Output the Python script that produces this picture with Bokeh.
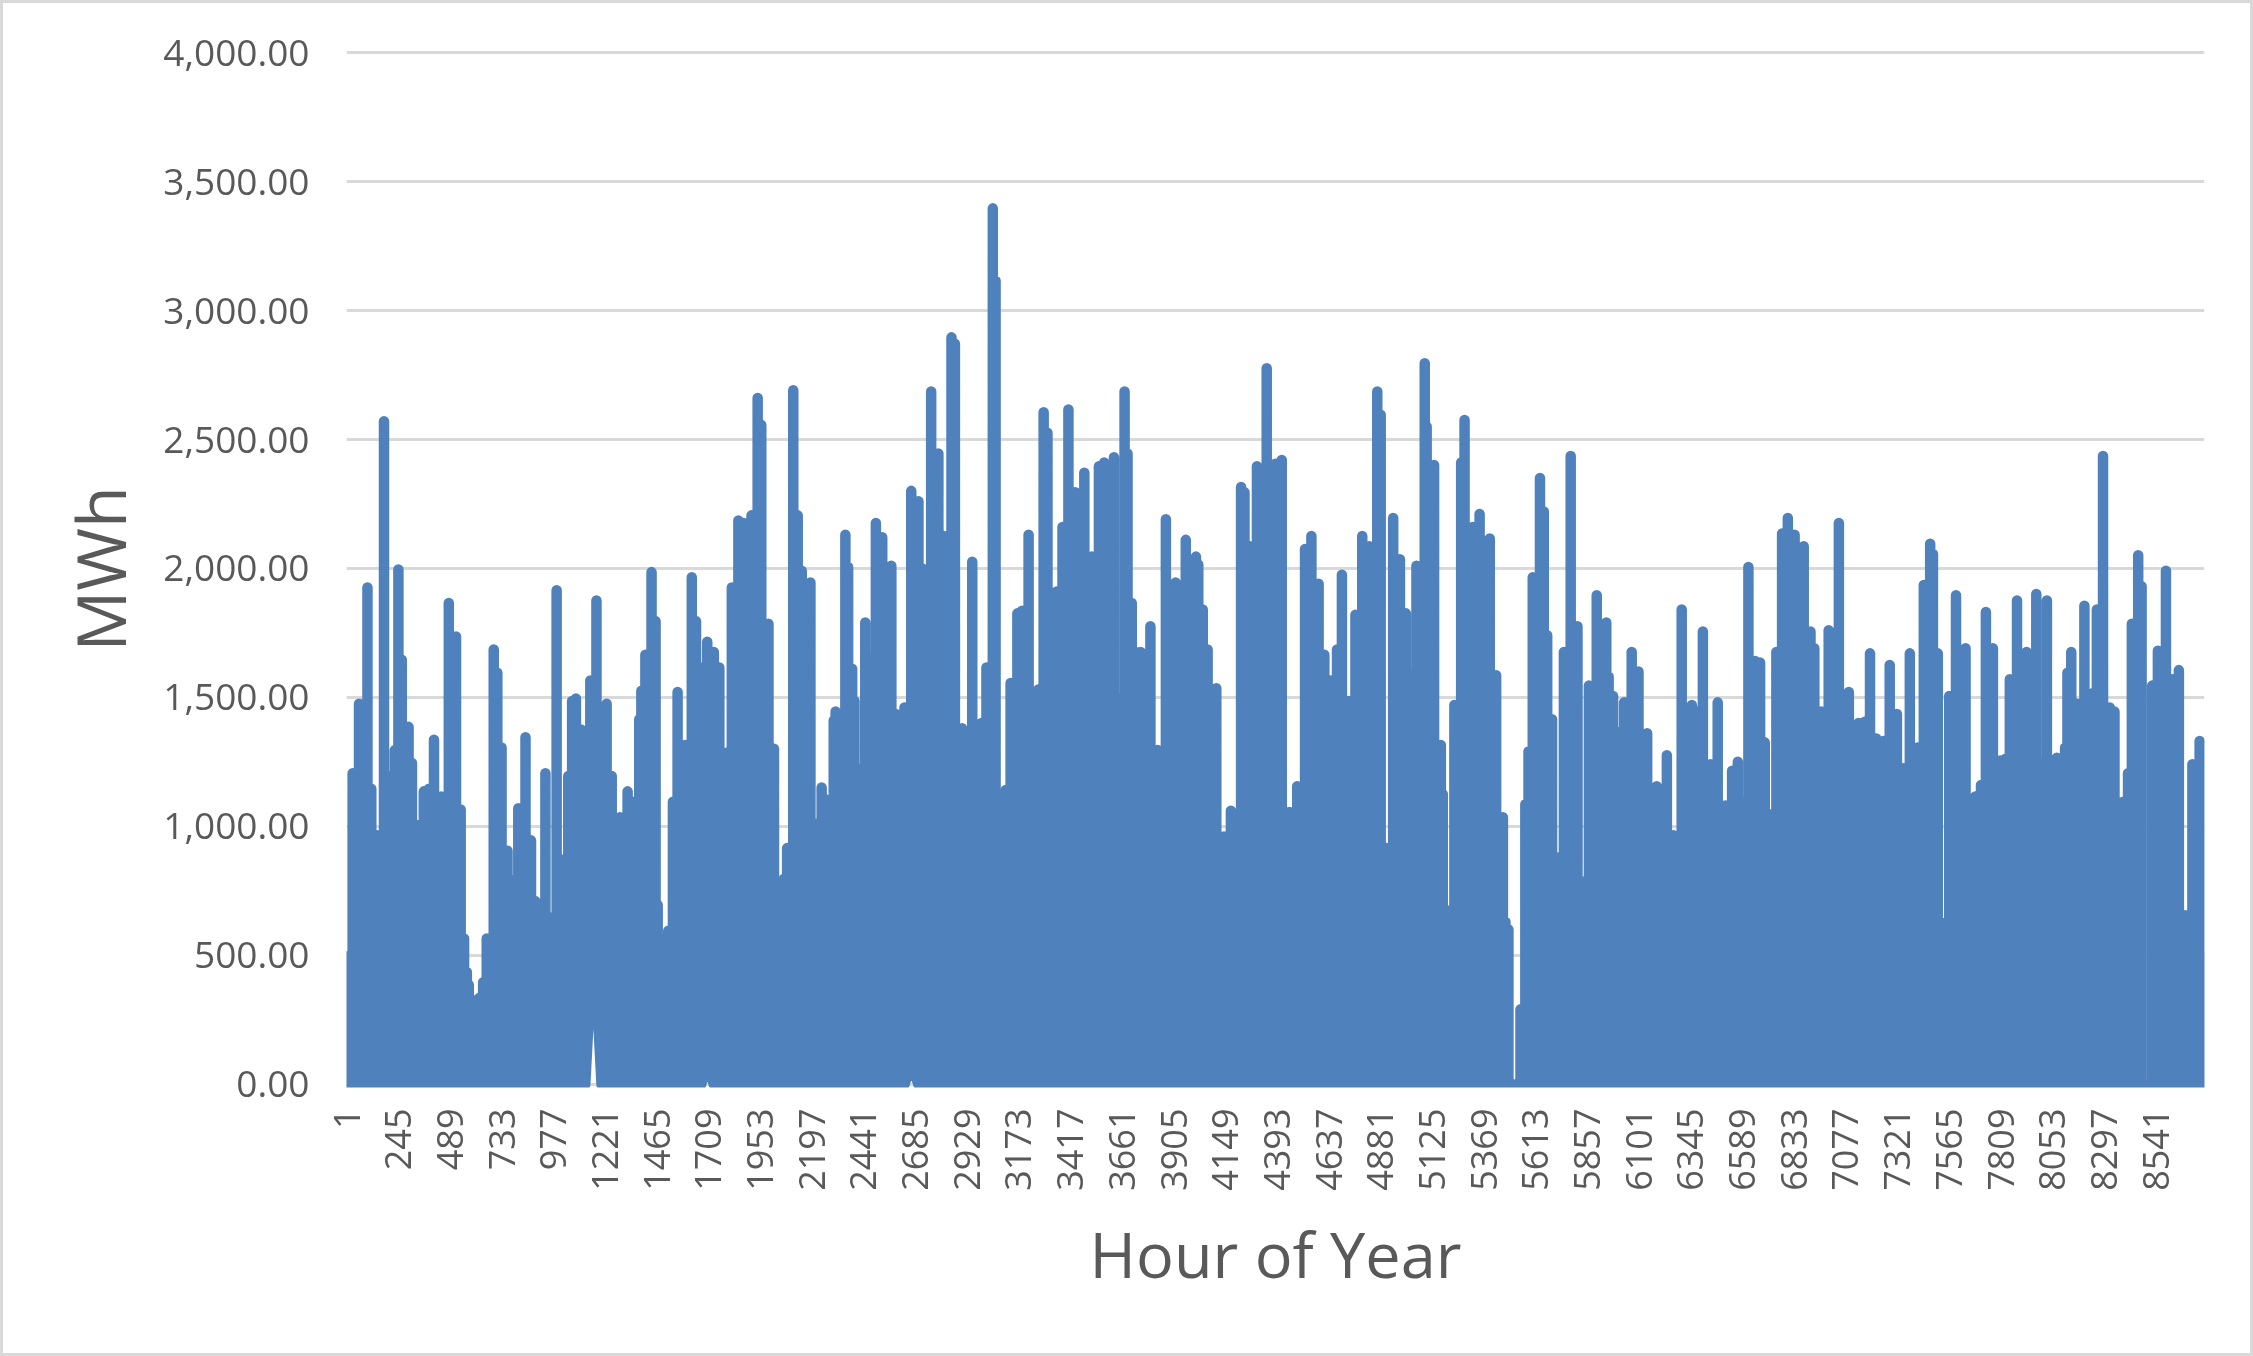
from bokeh.embed import file_html
from bokeh.models import FixedTicker, InlineStyleSheet, Range1d, NumeralTickFormatter
from bokeh.plotting import figure
from bokeh.resources import INLINE

peak_hours = [5,30,60,100,118,145,178,212,229,246,262,294,310,332,366,390,414,448,484,518,540,556,569,578,602,629,646,663,
 696,713,733,761,783,800,812,846,872,892,916,940,965,993,1017,1036,1048,1066,1084,1108,1128,1152,1181,1205,1229,1253,1292,
 1328,1357,1383,1393,1412,1441,1460,1470,1484,1504,1520,1542,1564,1600,1631,1651,1675,1704,1735,1761,1793,1820,1851,1875,
 1913,1942,1959,1993,2019,2048,2065,2081,2110,2131,2150,2163,2191,2220,2244,2260,2278,2301,2310,2333,2356,2369,2388,2399,
 2420,2450,2475,2500,2530,2548,2573,2594,2610,2635,2667,2701,2717,2729,2761,2795,2820,2857,2873,2907,2930,2955,2976,2999,
 3022,3052,3065,3086,3113,3136,3168,3190,3221,3251,3267,3292,3310,3331,3354,3381,3409,3441,3460,3484,3519,3553,3578,3600,
 3624,3674,3688,3708,3725,3750,3775,3796,3830,3869,3890,3915,3940,3963,3985,4011,4022,4043,4066,4107,4143,4176,4224,4240,
 4265,4299,4320,4345,4365,4386,4416,4452,4489,4526,4556,4590,4617,4647,4677,4700,4732,4764,4796,4830,4867,4883,4910,4942,
 4974,5002,5025,5052,5091,5100,5135,5167,5176,5192,5231,5263,5279,5318,5350,5375,5398,5428,5460,5472,5486,5543,5566,
 5581,5601,5635,5653,5669,5692,5726,5748,5780,5812,5839,5866,5903,5948,5959,5980,5995,6011,6032,6068,6100,6141,6186,6234,
 6265,6304,6352,6375,6404,6440,6474,6510,6542,6569,6619,6651,6674,6696,6724,6751,6778,6805,6837,6880,6912,6930,6962,6998,
 7046,7093,7139,7168,7193,7223,7257,7286,7320,7350,7381,7418,7447,7477,7490,7513,7536,7567,7599,7644,7690,7717,7740,7773,
 7808,7830,7853,7887,7932,7978,8028,8075,8114,8125,8143,8170,8205,8220,8243,8264,8293,8325,8347,8363,8388,8411,8429,8459,
 8475,8525,8552,8590,8620,8651,8681,8692,8715,8749,8758]
peak_mwh = [500,1210,1480,1930,1150,970,2575,1200,1300,2000,1650,1390,1250,1010,1140,1150,1340,1120,1870,1740,1070,570,440,
 390,330,340,400,570,1690,1600,1310,910,670,800,1075,1350,950,715,580,1210,650,1920,640,880,1200,1490,1500,1380,1360,1570,
 1880,1200,1480,1200,1040,1140,1100,1420,1530,1670,1990,1800,700,570,470,600,1100,1525,1320,1970,1800,1620,1720,1680,1620,
 1290,1930,2190,2180,2210,2665,2560,1790,1305,730,800,920,2695,2210,1995,1700,1950,1015,1155,1110,885,1415,1450,1100,2135,
 2010,1615,1490,1228,1795,1655,2180,2125,1975,2015,1440,1430,1465,2305,2265,2005,1590,2690,2450,2130,2900,2875,1385,1100,
 2030,1250,1405,1620,3400,3120,1060,1145,1560,1830,1840,2135,1380,1535,2610,2530,1050,1915,2165,2620,2300,2070,2375,2050,
 2400,2415,2370,2435,2690,2450,1870,1680,1680,1500,1780,1300,2195,1700,1950,1800,2115,1900,2050,2020,1845,1690,1540,965,
 1065,2320,2300,2090,2400,1900,2780,2000,2410,2425,1060,1160,2080,2130,1945,1670,1570,1690,1980,1490,1825,2130,2090,2690,
 2600,920,2200,2040,1830,1595,2015,2800,2555,2405,1320,1130,680,1475,2415,2580,2165,2215,1785,2120,1590,1040,635,605,
 295,1090,1295,1970,2355,2225,1745,1420,885,1680,2440,1780,790,1550,1900,1795,1585,1510,1285,1370,1485,1680,1605,1365,
 1160,1280,970,1845,1475,1450,1760,1245,1485,1085,1220,1255,2010,1645,1640,1330,1050,1680,2140,2200,2135,2090,1760,1695,
 1450,1765,2180,1525,1405,1410,1675,1345,1335,1630,1440,1230,1675,1310,1940,2100,2060,1675,630,1510,1900,1695,1120,1165,
 1835,1695,1260,1265,1575,1880,1680,1905,1880,1270,1310,1600,1680,1480,1860,1140,1520,1845,2440,1465,1450,825,1100,1210,
 1790,2055,1935,1550,1685,1995,1575,1610,660,560,1245,1335,500]
# lower spikes that are hidden between the tall ones
fill_hours = [3650,4200,5925,6210,6328,6594,7022,7070,7116,7667,7955,8003,8051]
fill_mwh = [1500,1000,1200,1100,1000,1100,1300,1300,1200,1000,1300,1250,1250]
# the few spikes that do not come down to zero (the white slits at the foot of the plot)
raised_hours = [1152,1181,1704,2667,8170,8552]
raised_floor = [376,376,80,80,50,55]
x_tick_hours = list(range(1, 8760, 244))
y_tick_values = [0, 500, 1000, 1500, 2000, 2500, 3000, 3500, 4000]
x_title = "Hour of Year"
y_title = "MWh"

BLUE = "#4f81bd"
GREY = "#595959"
GRID = "#d9d9d9"
CAP = 4  # small allowance: the readings are of the stroke's top edge

floors = dict(zip(raised_hours, raised_floor))
line_x, line_y = [], []
for h, v in zip(peak_hours + fill_hours, peak_mwh + fill_mwh):
    f = floors.get(h, 0)
    line_x += [h, h, h]
    line_y += [f, max(v - CAP, 0), f]

p = figure(width=2253, height=1356, output_backend="svg", toolbar_location=None,
           x_range=Range1d(1, 8772), y_range=Range1d(-12, 4008),
           min_border_left=346, min_border_right=49, min_border_top=50, min_border_bottom=269)
p.styles = {"position": "fixed", "left": "0", "top": "0"}
p.stylesheets = [InlineStyleSheet(css=":host::after{content:'';position:absolute;inset:0;"
                                      f"border:3px solid {GRID};pointer-events:none;z-index:100}}")]
p.outline_line_color = None
p.background_fill_color = "white"
p.border_fill_color = "white"
p.xgrid.visible = False
p.ygrid.grid_line_color = GRID
p.ygrid.grid_line_width = 3

p.line(line_x, line_y, line_color=BLUE, line_width=10.5, line_join="round", line_cap="round")

ax = p.xaxis[0]
ax.ticker = FixedTicker(ticks=x_tick_hours)
ax.major_label_orientation = 1.5708
ax.major_label_text_font = "Open Sans"
ax.major_label_text_font_size = "36px"
ax.major_label_text_color = GREY
ax.major_label_standoff = 15
ax.major_tick_line_color = None
ax.minor_tick_line_color = None
ax.axis_line_color = None
ax.axis_label = x_title
ax.axis_label_text_font = "Open Sans"
ax.axis_label_text_font_style = "normal"
ax.axis_label_text_font_size = "63px"
ax.axis_label_text_color = GREY
ax.axis_label_standoff = 17

ay = p.yaxis[0]
ay.ticker = FixedTicker(ticks=y_tick_values)
ay.formatter = NumeralTickFormatter(format="0,0.00")
ay.major_label_text_font = "Open Sans"
ay.major_label_text_font_size = "37px"
ay.major_label_text_color = GREY
ay.major_label_standoff = 31
ay.major_tick_line_color = None
ay.minor_tick_line_color = None
ay.axis_line_color = None
ay.axis_label = y_title
ay.axis_label_text_font = "Open Sans"
ay.axis_label_text_font_style = "normal"
ay.axis_label_text_font_size = "68px"
ay.axis_label_text_color = GREY
ay.axis_label_standoff = 14

assert len(peak_hours) == len(peak_mwh), (len(peak_hours), len(peak_mwh))
open("out.html", "w").write(file_html(p, INLINE))
